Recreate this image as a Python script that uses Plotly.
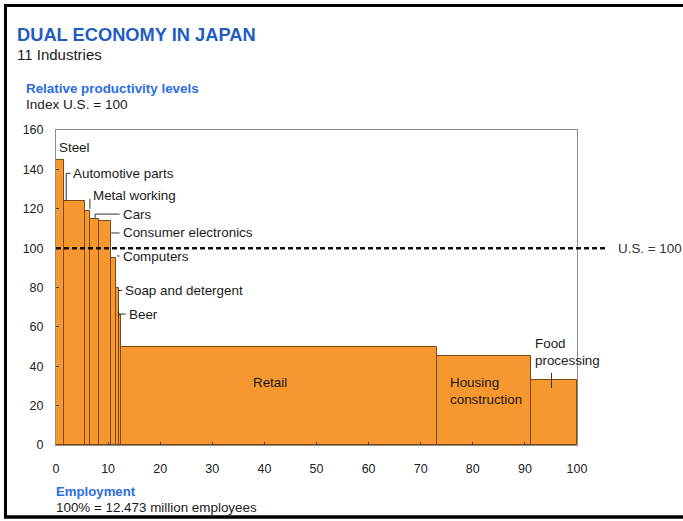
import plotly.graph_objects as go

# Industries, ordered by relative productivity (U.S. = 100)
industries = ["Steel", "Automotive parts", "Metal working", "Cars",
              "Consumer electronics", "Computers", "Soap and detergent", "Beer",
              "Retail", "Housing construction", "Food processing"]
# Share of employment (% of 12.473 million employees) -> bar widths
employment_share = [1.6, 4.0, 1.0, 1.7, 2.3, 0.9, 0.5, 0.4, 60.7, 18.0, 8.9]
# Productivity index, U.S. = 100 -> bar heights
productivity = [145, 124, 119, 115, 114, 95, 80, 66, 50, 45, 33]

x_ticks = list(range(0, 101, 10))
y_ticks = list(range(0, 161, 20))
us_level = 100

# Cumulative employment gives each bar's left edge
lefts = []
acc = 0.0
for w in employment_share:
    lefts.append(acc)
    acc += w
rights = [l + w for l, w in zip(lefts, employment_share)]
centers = [l + w / 2 for l, w in zip(lefts, employment_share)]

FONT = "Arial, Liberation Sans, sans-serif"
BLUE_DARK = "#1f5cc4"
BLUE = "#2a6de0"
TXT = "#1a1a1a"
LBL = 13.4

fig = go.Figure()
fig.add_trace(go.Bar(
    x=centers, y=productivity, width=employment_share,
    marker=dict(color="#F7972F", line=dict(color="#7a4a14", width=1)),
    hovertext=industries, showlegend=False,
))

W, H = 683, 521
L, R, T, B = 56, 106, 130, 76
pw, ph = W - L - R, H - T - B


def px_x(px):
    return (px - L) / pw


def px_y(py):
    return (H - B - py) / ph


shapes = []
annotations = []


def seg(x0, y0, x1, y1, color="#333333", width=1):
    shapes.append(dict(type="line", xref="x", yref="y", x0=x0, y0=y0, x1=x1, y1=y1,
                       line=dict(color=color, width=width)))


def label(text, x, y, xanchor="left", size=LBL, color=TXT, yanchor="middle"):
    annotations.append(dict(text=text, x=x, y=y, xref="x", yref="y", showarrow=False,
                            xanchor=xanchor, yanchor=yanchor, align=xanchor,
                            font=dict(family=FONT, size=size, color=color)))


# Callouts for the narrow bars
label("Steel", lefts[0] + 0.2, 151)

seg(rights[0] + 0.35, productivity[1], rights[0] + 0.35, 138)
seg(rights[0] + 0.35, 138, rights[0] + 1.2, 138)
label("Automotive parts", rights[0] + 1.3, 138)

seg(lefts[2] + 0.9, productivity[2] + 1, lefts[2] + 0.9, 125)
label("Metal working", 6.7, 126.5)

seg(lefts[3] + 0.9, productivity[3], lefts[3] + 0.9, 117.3)
seg(lefts[3] + 0.9, 117.3, 12.2, 117.3)
label("Cars", 12.4, 117.3)

seg(rights[4], 107.7, 12.2, 107.7)
label("Consumer electronics", 12.4, 107.7)

seg(rights[5] + 0.2, 96, 12.2, 96)
label("Computers", 12.4, 95.8)

seg(rights[6] - 0.1, 78.5, 12.7, 78.5)
label("Soap and detergent", 12.9, 78.5)

seg(rights[7] - 0.4, 66.5, 13.4, 66.5)
seg(rights[7] - 0.4, 64.5, rights[7] - 0.4, 68.5)
label("Beer", 13.6, 66.5)

# Labels inside the wide bars
label("Retail", 41, 32, xanchor="center")
label("Housing<br>construction", 75.3, 27.2)
label("Food<br>processing", 91.6, 47)
seg(95.1, 29, 95.1, 36.6)

# U.S. benchmark line extends past the plot area
shapes.append(dict(type="line", xref="paper", yref="y", x0=0, x1=px_x(605),
                   y0=us_level, y1=us_level, layer="above",
                   line=dict(color="#111111", width=2.5, dash="5px,3px")))
annotations.append(dict(text="U.S. = 100", x=px_x(616), y=us_level, xref="paper", yref="y",
                        showarrow=False, xanchor="left", yanchor="middle",
                        font=dict(family=FONT, size=LBL, color="#333333")))

# Outer frame (top, left, bottom)
frame = dict(color="#000000", width=3)
shapes.append(dict(type="line", xref="paper", yref="paper", x0=px_x(4), x1=px_x(690),
                   y0=px_y(5.5), y1=px_y(5.5), line=frame))
shapes.append(dict(type="line", xref="paper", yref="paper", x0=px_x(5.5), x1=px_x(5.5),
                   y0=px_y(4), y1=px_y(518), line=frame))
shapes.append(dict(type="line", xref="paper", yref="paper", x0=px_x(4), x1=px_x(690),
                   y0=px_y(517), y1=px_y(517), line=dict(color="#000000", width=3.5)))


def head(text, px, py, size, color, bold=False):
    annotations.append(dict(text=f"<b>{text}</b>" if bold else text,
                            x=px_x(px), y=px_y(py), xref="paper", yref="paper",
                            showarrow=False, xanchor="left", yanchor="middle",
                            font=dict(family=FONT, size=size, color=color)))


head("DUAL ECONOMY IN JAPAN", 15, 35, 18.3, BLUE_DARK, bold=True)
head("11 Industries", 15, 55, 15, TXT)
head("Relative productivity levels", 24, 88, 13.4, BLUE, bold=True)
head("Index U.S. = 100", 24, 104, 13.6, TXT)
head("Employment", 54, 491, 13.2, BLUE, bold=True)
head("100% = 12.473 million employees", 54, 507, 13.4, TXT)

fig.update_layout(
    width=W, height=H,
    margin=dict(l=L, r=R, t=T, b=B),
    paper_bgcolor="white", plot_bgcolor="white",
    bargap=0,
    shapes=shapes, annotations=annotations,
    font=dict(family=FONT, size=12, color=TXT),
)
fig.update_xaxes(range=[0, 100], tickvals=x_ticks, showgrid=False, zeroline=False,
                 showline=True, mirror=True, linecolor="#8c8c8c", linewidth=1,
                 ticks="inside", ticklen=3, tickcolor="#444444",
                 ticklabelstandoff=12, tickfont=dict(size=12.5, color="#222222"))
fig.update_yaxes(range=[0, 160], tickvals=y_ticks, showgrid=False, zeroline=False,
                 showline=True, mirror=True, linecolor="#8c8c8c", linewidth=1,
                 ticks="inside", ticklen=3, tickcolor="#444444",
                 ticklabelstandoff=9, tickfont=dict(size=12.5, color="#222222"))

fig.write_html("out.html")
